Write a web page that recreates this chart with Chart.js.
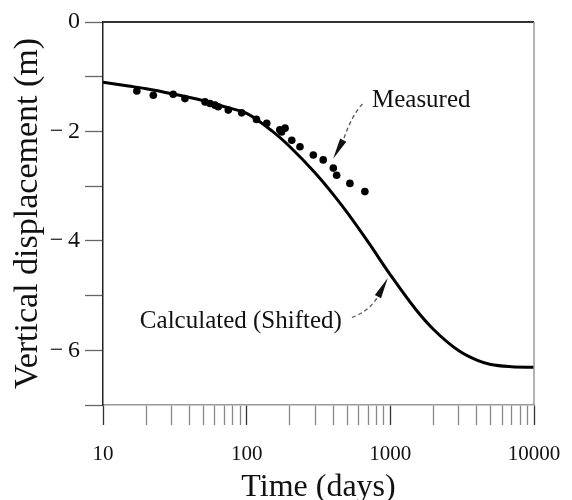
<!DOCTYPE html>
<html><head><meta charset="utf-8">
<script src="https://cdn.jsdelivr.net/npm/chart.js@4/dist/chart.umd.min.js"></script>
<style>html,body{margin:0;padding:0;background:#fff;} #wrap{width:572px;height:500px;position:relative;}</style>
</head><body><div id="wrap"><canvas id="c"></canvas></div>
<script>
// ---- data ----
const calcDays = [10,15,20,30,50,70,100,150,200,300,400,500,700,1000,1500,2000,3000,4000,5000,7000,10000];
const calcDisp = [-1.10,-1.17,-1.22,-1.31,-1.44,-1.55,-1.67,-1.99,-2.28,-2.76,-3.15,-3.48,-4.02,-4.62,-5.25,-5.62,-6.01,-6.18,-6.26,-6.30,-6.31];
const measDays = [17.2,22.4,30.8,37.2,51.3,55.6,60.2,63.4,74.5,92.3,117,138,170,175,185,206,235,291,341,401,423,523,665];
const measDisp = [-1.26,-1.34,-1.32,-1.40,-1.46,-1.49,-1.52,-1.55,-1.61,-1.66,-1.78,-1.85,-1.97,-2.01,-1.94,-2.16,-2.28,-2.43,-2.52,-2.67,-2.80,-2.95,-3.10];
const xTickValues = [10,20,30,40,50,60,70,80,90,100,200,300,400,500,600,700,800,900,1000,2000,3000,4000,5000,6000,7000,8000,9000,10000];
const xMajorValues = [10,100,1000,10000];
const xMajorLabels = ['10','100','1000','10000'];
const yTickValues = [0,-1,-2,-3,-4,-5,-6,-7];
const yTickLabels = ['0','','\u2212\u20092','','\u2212\u20094','','\u2212\u20096',''];
const xTitle = 'Time (days)';
const yTitle = 'Vertical displacement (m)';
const measuredLabel = 'Measured';
const calculatedLabel = 'Calculated (Shifted)';

// annotation anchors in data units
const measuredNote = {text:[745,-1.44], start:[640,-1.50], ctrl:[540,-1.70], base:[470,-2.16], tip:[400,-2.50]};
const calcNote = {text:[460,-5.48], start:[540,-5.40], ctrl:[700,-5.30], base:[820,-5.02], tip:[960,-4.68]};

const FONT = "'Liberation Serif', 'DejaVu Serif', serif";

const boxPlugin = {
  id:'boxAndNotes',
  afterDatasetsDraw(chart){
    const {ctx, chartArea:a, scales:{x,y}} = chart;
    ctx.save();
    ctx.lineWidth = 2; ctx.strokeStyle = '#333';
    ctx.beginPath(); ctx.moveTo(a.left, a.top); ctx.lineTo(a.right, a.top); ctx.stroke();
    ctx.lineWidth = 1.5; ctx.strokeStyle = '#999';
    ctx.beginPath(); ctx.moveTo(a.right, a.top); ctx.lineTo(a.right, a.bottom); ctx.stroke();

    const P = p => [x.getPixelForValue(p[0]), y.getPixelForValue(p[1])];
    function leader(n){
      const s=P(n.start), c=P(n.ctrl), b=P(n.base), t=P(n.tip);
      ctx.setLineDash([4,3]); ctx.lineWidth=1.3; ctx.strokeStyle='#555';
      ctx.beginPath(); ctx.moveTo(s[0],s[1]); ctx.quadraticCurveTo(c[0],c[1],b[0],b[1]); ctx.stroke();
      ctx.setLineDash([]);
      const ang = Math.atan2(t[1]-b[1], t[0]-b[0]);
      const len = Math.hypot(t[0]-b[0], t[1]-b[1]);
      ctx.fillStyle='#111';
      ctx.beginPath();
      ctx.moveTo(t[0],t[1]);
      ctx.lineTo(t[0]-len*Math.cos(ang)+3.5*Math.sin(ang), t[1]-len*Math.sin(ang)-3.5*Math.cos(ang));
      ctx.lineTo(t[0]-len*Math.cos(ang)-3.5*Math.sin(ang), t[1]-len*Math.sin(ang)+3.5*Math.cos(ang));
      ctx.closePath(); ctx.fill();
    }
    leader(measuredNote); leader(calcNote);
    ctx.fillStyle='#111'; ctx.font = "25px " + FONT; ctx.textBaseline='middle';
    let p = P(measuredNote.text); ctx.textAlign='left'; ctx.fillText(measuredLabel, p[0], p[1]);
    p = P(calcNote.text); ctx.textAlign='right'; ctx.fillText(calculatedLabel, p[0], p[1]);
    ctx.restore();
  }
};

new Chart(document.getElementById('c'), {
  type:'scatter',
  data:{
    datasets:[
      {label:'Calculated (Shifted)', data: calcDays.map((d,i)=>({x:d,y:calcDisp[i]})), showLine:true,
       borderColor:'#000', borderWidth:3, pointRadius:0, cubicInterpolationMode:'monotone', fill:false},
      {label:'Measured', data: measDays.map((d,i)=>({x:d,y:measDisp[i]})), showLine:false,
       backgroundColor:'#000', borderColor:'#000', pointRadius:3.8, pointBorderWidth:0}
    ]
  },
  options:{
    responsive:true, maintainAspectRatio:false, animation:false,
    layout:{padding:{left:0, top:22, right:38, bottom:0}},
    plugins:{legend:{display:false}, tooltip:{enabled:false}},
    scales:{
      x:{
        type:'logarithmic', min:10, max:10000,
        afterBuildTicks: s => { s.ticks = xTickValues.map(v=>({value:v, major: xMajorValues.includes(v)})); },
        afterFit: s => { s.height = 95; s.paddingRight = 20; s.paddingLeft = 0; },
        ticks:{autoSkip:false, maxRotation:0, padding:17, color:'#111',
          font:{family:FONT, size:21},
          callback:(v)=>{ const i = xMajorValues.indexOf(v); return i>=0 ? xMajorLabels[i] : ''; }},
        grid:{drawOnChartArea:false, drawTicks:true, tickLength:20, tickWidth:1.3,
          tickColor: c => (c.tick && xMajorValues.includes(c.tick.value)) ? '#333' : '#888'},
        border:{display:true, color:'#999', width:1.5},
        title:{display:true, text:xTitle, color:'#111', font:{family:FONT, size:32, lineHeight:1}, padding:{top:0,bottom:-4}}
      },
      y:{
        type:'linear', min:-7, max:0,
        afterBuildTicks: s => { s.ticks = yTickValues.map(v=>({value:v})); },
        afterFit: s => { s.width = 103; },
        ticks:{autoSkip:false, padding:5, color:'#111', font:{family:FONT, size:24},
          callback:(v)=>{ const i = yTickValues.indexOf(v); return i>=0 ? yTickLabels[i] : ''; }},
        grid:{drawOnChartArea:false, drawTicks:true, tickLength:18, tickWidth:1.3, tickColor:'#666'},
        border:{display:true, color:'#222', width:1.5},
        title:{display:true, text:yTitle, color:'#111', font:{family:FONT, size:34, lineHeight:1}, padding:{top:11,bottom:0}}
      }
    }
  },
  plugins:[boxPlugin]
});
</script>
</body></html>
